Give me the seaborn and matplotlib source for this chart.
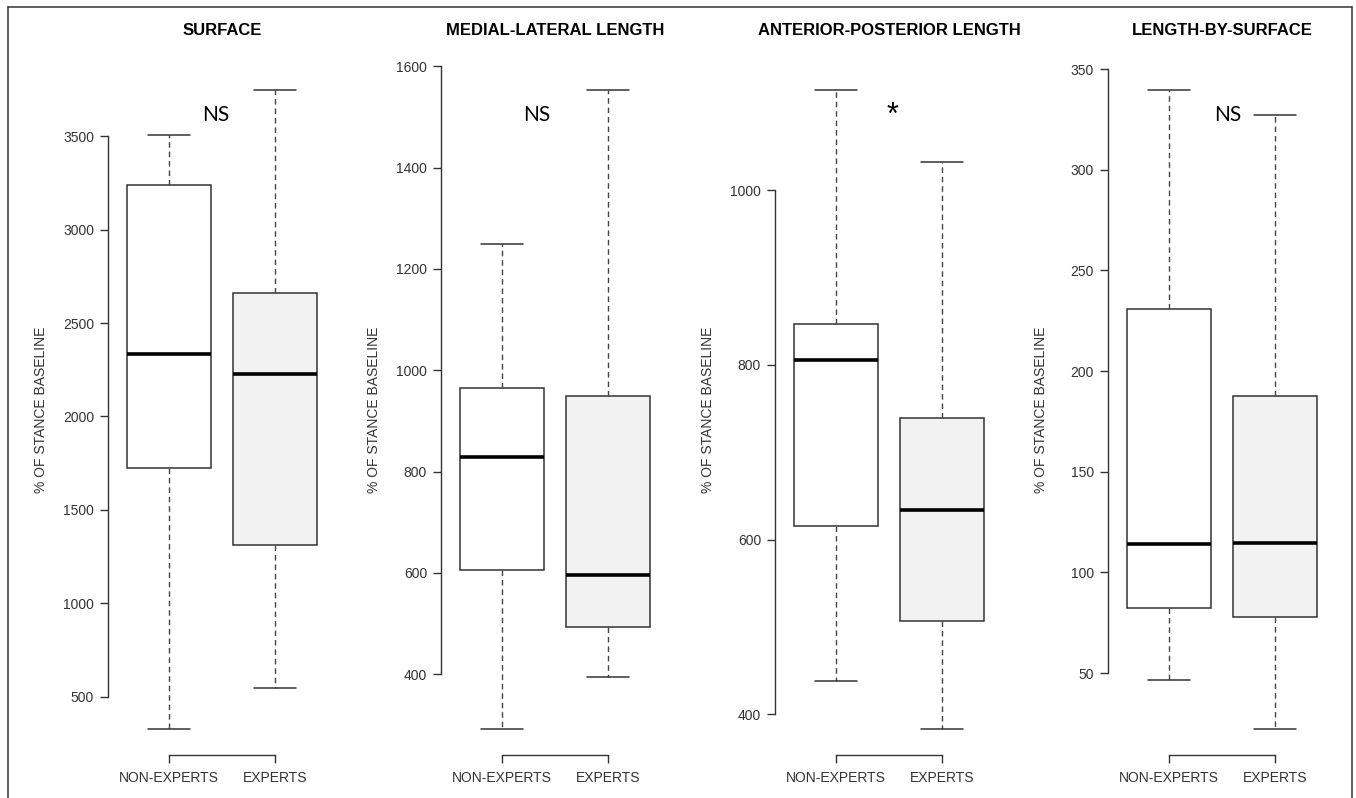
import numpy as np
import pandas as pd
import matplotlib
matplotlib.use("Agg")
import matplotlib.pyplot as plt
import seaborn as sns
from matplotlib.lines import Line2D

# data: min, Q1, median, Q3, max per group
GROUPS = ["NON-EXPERTS", "EXPERTS"]
TITLES = ["SURFACE", "MEDIAL-LATERAL LENGTH", "ANTERIOR-POSTERIOR LENGTH", "LENGTH-BY-SURFACE"]
SIG_LABELS = ["NS", "NS", "*", "NS"]

surface_non = [326, 1724, 2333, 3239, 3505]
surface_exp = [545, 1314, 2228, 2660, 3748]
ml_non = [292, 606, 829, 964, 1250]
ml_exp = [394, 494, 596, 950, 1553]
ap_non = [438, 615, 806, 847, 1115]
ap_exp = [383, 507, 634, 739, 1032]
lbs_non = [46.6, 82.2, 114.3, 230.7, 339.6]
lbs_exp = [22.2, 78, 114.8, 187.8, 327.2]

surface_ticks = [500, 1000, 1500, 2000, 2500, 3000, 3500]
ml_ticks = [400, 600, 800, 1000, 1200, 1400, 1600]
ap_ticks = [400, 600, 800, 1000]
lbs_ticks = [50, 100, 150, 200, 250, 300, 350]

PANELS = [
    (surface_non, surface_exp, surface_ticks),
    (ml_non, ml_exp, ml_ticks),
    (ap_non, ap_exp, ap_ticks),
    (lbs_non, lbs_exp, lbs_ticks),
]

# layout (pixels of a 1356x798 canvas)
W, H = 1356, 798
AX_LEFT = [108, 441, 775, 1108]
AX_W = 228
AX_TOP, AX_BOT = 64.4, 754.6
SIG_X = [0.445, 0.33, 0.53, 0.55]   # x in category units
SIG_Y = 0.927                        # axes fraction

INK = "#333333"
FILLS = {"NON-EXPERTS": "white", "EXPERTS": "#f2f2f2"}

sns.set_style("ticks")
plt.rcParams["font.family"] = ["Liberation Sans", "DejaVu Sans"]

fig = plt.figure(figsize=(W / 100, H / 100), dpi=100)
fig.patch.set_facecolor("white")

for i, (non, exp, ticks) in enumerate(PANELS):
    ax = fig.add_axes([AX_LEFT[i] / W, 1 - AX_BOT / H, AX_W / W, (AX_BOT - AX_TOP) / H])
    df = pd.DataFrame({
        "group": [GROUPS[0]] * len(non) + [GROUPS[1]] * len(exp),
        "value": non + exp,
    })
    sns.boxplot(
        data=df, x="group", y="value", hue="group",
        order=GROUPS, hue_order=GROUPS, palette=FILLS,
        saturation=1, width=0.8, whis=(0, 100), showfliers=False,
        linecolor=INK, linewidth=1.1, legend=False, ax=ax,
        medianprops=dict(color="black", linewidth=2.6),
        whiskerprops=dict(color="#444444", linewidth=1.0, linestyle=(0, (4, 2.8))),
        capprops=dict(color=INK, linewidth=1.1, linestyle="-"),
    )

    lo, hi = min(non + exp), max(non + exp)
    pad = 0.04 * (hi - lo)
    ax.set_ylim(lo - pad, hi + pad)
    ax.set_xlim(-0.58, 1.58)

    ax.set_yticks(ticks)
    ax.set_yticklabels([str(t) for t in ticks])
    ax.set_xticks([0, 1])
    ax.set_xticklabels(GROUPS)

    for side in ["top", "right"]:
        ax.spines[side].set_visible(False)
    ax.spines["left"].set_bounds(ticks[0], ticks[-1])
    ax.spines["bottom"].set_bounds(0, 1)
    for side in ["left", "bottom"]:
        ax.spines[side].set_color(INK)
        ax.spines[side].set_linewidth(1.0)

    ax.tick_params(axis="y", length=6, width=1.0, color=INK,
                   labelsize=10, labelcolor=INK, pad=4)
    ax.tick_params(axis="x", length=6, width=1.0, color=INK,
                   labelsize=10, labelcolor=INK, pad=6)

    ax.set_xlabel("")
    ax.set_ylabel("% OF STANCE BASELINE", fontsize=10, color=INK)
    ax.yaxis.set_label_coords(-0.263, 0.5)
    ax.set_title(TITLES[i], fontsize=12, fontweight="bold", pad=21, color="black")

    if SIG_LABELS[i] == "*":
        # the asterisk sits high in its em box, so nudge it
        ax.text(SIG_X[i], SIG_Y - 0.002, SIG_LABELS[i], transform=ax.get_xaxis_transform(),
                ha="center", va="center", fontsize=22, family=["Liberation Sans", "DejaVu Sans"],
                color="black")
    else:
        ax.text(SIG_X[i], SIG_Y, SIG_LABELS[i], transform=ax.get_xaxis_transform(),
                ha="center", va="center", fontsize=15, family=["Lato", "DejaVu Sans"],
                color="black")

# outer frame
for xs, ys in [([8, 8], [7, 800]), ([8, 1352], [7, 7]), ([1352, 1352], [7, 800])]:
    fig.add_artist(Line2D([x / W for x in xs], [1 - y / H for y in ys],
                          color="#444444", linewidth=1.2))

fig.savefig("out.png", dpi=100, facecolor="white")
